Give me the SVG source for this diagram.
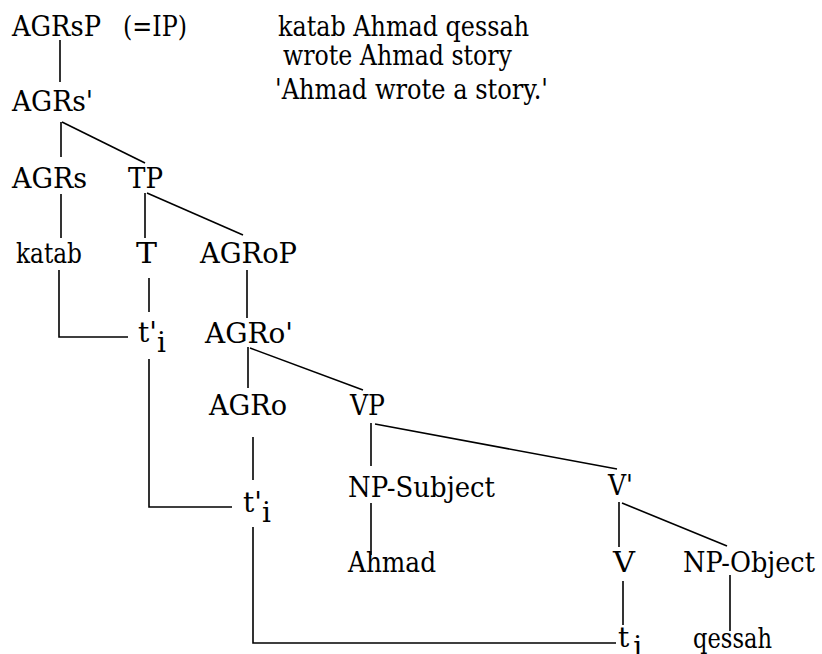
<svg xmlns="http://www.w3.org/2000/svg" width="822" height="654" viewBox="0 0 822 654">
<style>
text { font-family: "DejaVu Serif", "Liberation Serif", serif; font-size: 28px; fill: #000; }
.gloss { font-size: 27px; }
.c line, .c polyline { stroke: #000; stroke-width: 1.6; fill: none; }
</style>
<rect width="822" height="654" fill="#fff"/>
<g id="connectors" class="c">
<line x1="60" y1="40" x2="60" y2="82"/>
<line x1="61" y1="122" x2="61" y2="157"/>
<line x1="62" y1="122" x2="145" y2="163"/>
<line x1="61" y1="194" x2="61" y2="238"/>
<line x1="145" y1="193" x2="145" y2="238"/>
<line x1="147" y1="193" x2="243" y2="235"/>
<polyline points="59,270 59,337 128,337"/>
<line x1="149" y1="278" x2="149" y2="312"/>
<polyline points="149,359 149,507 232,507"/>
<line x1="247" y1="270" x2="247" y2="318"/>
<line x1="248" y1="347" x2="248" y2="388"/>
<line x1="250" y1="348" x2="363" y2="390"/>
<line x1="253" y1="437" x2="253" y2="480"/>
<line x1="371" y1="423" x2="371" y2="466"/>
<line x1="375" y1="424" x2="617" y2="469"/>
<line x1="371" y1="503" x2="371" y2="555"/>
<line x1="619" y1="502" x2="619" y2="547"/>
<line x1="622" y1="503" x2="727" y2="546"/>
<polyline points="253,527 253,643 616,643"/>
<line x1="623" y1="581" x2="623" y2="625"/>
<line x1="730" y1="575" x2="730" y2="631"/>
</g>
<g id="AGRsP"><text x="12" y="36" textLength="89" lengthAdjust="spacingAndGlyphs">AGRsP</text><text x="123" y="36" textLength="64" lengthAdjust="spacingAndGlyphs">(=IP)</text></g>
<g id="gloss">
<text class="gloss" x="278" y="36" textLength="251" lengthAdjust="spacingAndGlyphs">katab Ahmad qessah</text>
<text class="gloss" x="283" y="65" textLength="229" lengthAdjust="spacingAndGlyphs">wrote Ahmad story</text>
<text class="gloss" x="275" y="99" textLength="273" lengthAdjust="spacingAndGlyphs">'Ahmad wrote a story.'</text>
</g>
<g id="AGRs-bar"><text x="12" y="111" textLength="81" lengthAdjust="spacingAndGlyphs">AGRs'</text></g>
<g id="AGRs"><text x="12" y="188" textLength="75" lengthAdjust="spacingAndGlyphs">AGRs</text></g>
<g id="TP"><text x="128" y="188" textLength="35" lengthAdjust="spacingAndGlyphs">TP</text></g>
<g id="katab"><text x="16" y="263" textLength="66" lengthAdjust="spacingAndGlyphs">katab</text></g>
<g id="T"><text x="136" y="263" textLength="21" lengthAdjust="spacingAndGlyphs">T</text></g>
<g id="AGRoP"><text x="200" y="263" textLength="97" lengthAdjust="spacingAndGlyphs">AGRoP</text></g>
<g id="t-trace-1"><text x="138" y="342">t'<tspan dy="10">i</tspan></text></g>
<g id="AGRo-bar"><text x="205" y="343" textLength="88" lengthAdjust="spacingAndGlyphs">AGRo'</text></g>
<g id="AGRo"><text x="209" y="415" textLength="78" lengthAdjust="spacingAndGlyphs">AGRo</text></g>
<g id="VP"><text x="350" y="415" textLength="35" lengthAdjust="spacingAndGlyphs">VP</text></g>
<g id="t-trace-2"><text x="243" y="512">t'<tspan dy="10">i</tspan></text></g>
<g id="NP-Subject"><text x="348" y="497" textLength="147" lengthAdjust="spacingAndGlyphs">NP-Subject</text></g>
<g id="V-bar"><text x="608" y="495" textLength="25" lengthAdjust="spacingAndGlyphs">V'</text></g>
<g id="Ahmad"><text x="348" y="572" textLength="88" lengthAdjust="spacingAndGlyphs">Ahmad</text></g>
<g id="V"><text x="613" y="572" textLength="22" lengthAdjust="spacingAndGlyphs">V</text></g>
<g id="NP-Object"><text x="683" y="572" textLength="132" lengthAdjust="spacingAndGlyphs">NP-Object</text></g>
<g id="t-trace-3"><text x="618" y="647">t<tspan dx="4" dy="9">i</tspan></text></g>
<g id="qessah"><text x="693" y="648" textLength="79" lengthAdjust="spacingAndGlyphs">qessah</text></g>
</svg>
